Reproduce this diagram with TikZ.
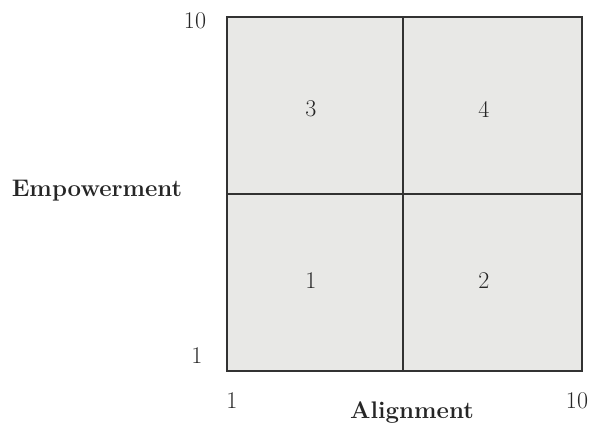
\documentclass[tikz,border=0pt]{standalone}
\usetikzlibrary{positioning}
\definecolor{cellgray}{RGB}{232,232,230}
\definecolor{linegray}{RGB}{50,50,50}

\begin{document}
\begin{tikzpicture}[x=0.75pt, y=-0.75pt, every node/.style={font=\fontsize{18}{21}\selectfont, text=black!85}]
    \useasboundingbox (0,0) rectangle (596,430);
    % quadrant cells
    \fill[cellgray] (227,17) rectangle (582,371);
    \draw[linegray, line width=0.8pt] (227,17) rectangle (582,371);
    \draw[linegray, line width=0.8pt] (403,17) -- (403,371);
    \draw[linegray, line width=0.8pt] (227,194) -- (582,194);

    \foreach \n/\x/\y in {3/311/109, 4/484/109, 1/311/281, 2/484/281} {
        \node (q\n) at (\x, \y) {\n};
    }

    % axis ticks
    \node (ytop) at (195,21) {10};
    \node (ybot) at (197,356) {1};
    \node (xlft) at (232,401) {1};
    \node (xrgt) at (577,401) {10};

    \node[font=\fontsize{18}{21}\selectfont\bfseries] (ylab) at (97,191) {Empowerment};
    \node[font=\fontsize{18}{21}\selectfont\bfseries] (xlab) at (412,412) {Alignment};
\end{tikzpicture}
\end{document}
